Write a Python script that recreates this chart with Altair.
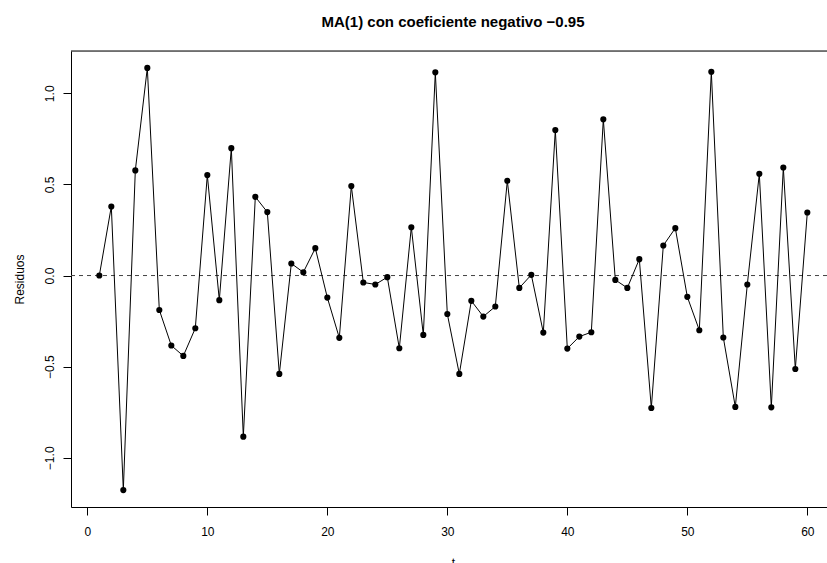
import altair as alt
import pandas as pd

t = list(range(1, 61))
residuos = [
    0.000, 0.379, -1.177, 0.577, 1.139, -0.189, -0.384, -0.441, -0.289, 0.551,
    -0.135, 0.699, -0.884, 0.432, 0.348, -0.540, 0.066, 0.018, 0.150, -0.121,
    -0.342, 0.491, -0.038, -0.049, -0.009, -0.399, 0.265, -0.326, 1.115, -0.211,
    -0.540, -0.139, -0.225, -0.170, 0.520, -0.068, 0.004, -0.313, 0.798, -0.401,
    -0.335, -0.311, 0.857, -0.024, -0.068, 0.090, -0.727, 0.165, 0.260, -0.117,
    -0.300, 1.118, -0.340, -0.721, -0.049, 0.558, -0.723, 0.593, -0.513, 0.346,
]
x_ticks = [0, 10, 20, 30, 40, 50, 60]
y_ticks = [-1.0, -0.5, 0.0, 0.5, 1.0]

df = pd.DataFrame({"t": t, "r": residuos})
zero = pd.DataFrame({"r": [0.0]})

FONT = "Liberation Sans"
W, H = 756, 456

xscale = alt.Scale(domain=[-1.36, 61.64], nice=False, zero=False)
yscale = alt.Scale(domain=[-1.27, 1.232], nice=False, zero=False)

xaxis = alt.Axis(
    values=x_ticks, format="d", grid=False, tickSize=8, tickColor="black",
    domainColor="black", labelColor="black", labelFont=FONT, labelFontSize=12,
    labelBaseline="alphabetic", labelPadding=20, title="t", titleFont=FONT,
    titleFontSize=12, titleFontWeight="normal", titleColor="black",
    titleX=382, titleY=59, titleBaseline="alphabetic", titleAlign="center",
)
yaxis = alt.Axis(
    values=y_ticks, format=".1f", grid=False, tickSize=8, tickColor="black",
    domainColor="black", labelColor="black", labelFont=FONT, labelFontSize=12,
    labelAngle=270, labelAlign="center", labelBaseline="alphabetic",
    labelPadding=10, title="Residuos", titleFont=FONT, titleFontSize=12,
    titleFontWeight="normal", titleColor="black", titleAngle=270,
    titleX=-48, titleY=H / 2, titleBaseline="alphabetic", titleAlign="center",
)

base = alt.Chart(df)

line = base.mark_line(color="black", strokeWidth=1).encode(
    x=alt.X("t:Q", scale=xscale, axis=xaxis),
    y=alt.Y("r:Q", scale=yscale, axis=yaxis),
)
points = base.mark_circle(color="black", opacity=1, size=38).encode(
    x=alt.X("t:Q", scale=xscale),
    y=alt.Y("r:Q", scale=yscale),
)
hline = alt.Chart(zero).mark_rule(
    color="#444444", strokeWidth=1, strokeDash=[4, 4]
).encode(y=alt.Y("r:Q", scale=yscale), x=alt.value(0), x2=alt.value(W))
topline = alt.Chart(zero).mark_rule(color="black", strokeWidth=1).encode(
    x=alt.value(0), x2=alt.value(W), y=alt.value(0)
)

chart = (
    alt.layer(hline, line, points, topline)
    .properties(
        width=W,
        height=H,
        autosize="none",
        padding={"left": 71, "top": 51, "right": 0, "bottom": 56},
        title=alt.TitleParams(
            "MA(1) con coeficiente negativo \u22120.95",
            font=FONT, fontSize=15, fontWeight="bold", color="black",
            anchor="middle", baseline="alphabetic", offset=9, dx=4,
        ),
    )
    .configure_view(stroke=None)
    .configure(background="white")
)

chart.save("out.html", embed_options={"renderer": "svg", "actions": False})
